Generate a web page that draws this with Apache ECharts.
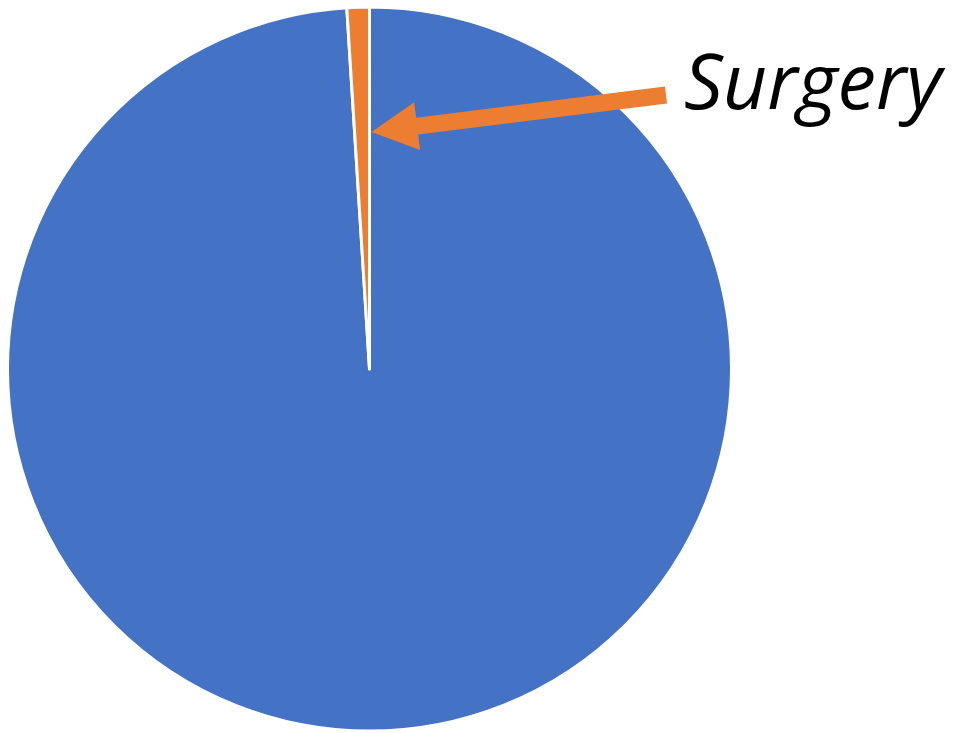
<!DOCTYPE html>
<html><head><meta charset="utf-8">
<script src="https://cdn.jsdelivr.net/npm/echarts@6/dist/echarts.min.js"></script>
<style>html,body{margin:0;padding:0;background:#fff}#c{width:961px;height:733px}</style>
</head><body><div id="c"></div>
<script>
const categories = ['Other', 'Surgery'];
const values = [99, 1];
const colors = ['#4472C4', '#ED7D31'];
const annotationText = 'Surgery';

const cx = 369.5, cy = 369, R = 362;
const tip = [cx + 2, cy - 0.655 * R];
const tail = [666, 95];
function arrowPoints(a, b, shaftW, headL, headW) {
  const dx = a[0] - b[0], dy = a[1] - b[1];
  const L = Math.hypot(dx, dy);
  const ux = dx / L, uy = dy / L, px = -uy, py = ux;
  const base = [b[0] + ux * headL, b[1] + uy * headL];
  return [
    [a[0] + px * shaftW / 2, a[1] + py * shaftW / 2],
    [base[0] + px * shaftW / 2, base[1] + py * shaftW / 2],
    [base[0] + px * headW / 2, base[1] + py * headW / 2],
    b,
    [base[0] - px * headW / 2, base[1] - py * headW / 2],
    [base[0] - px * shaftW / 2, base[1] - py * shaftW / 2],
    [a[0] - px * shaftW / 2, a[1] - py * shaftW / 2]
  ];
}
const chart = echarts.init(document.getElementById('c'), null, {renderer: 'canvas'});
chart.setOption({
  animation: false,
  backgroundColor: '#ffffff',
  series: [{
    type: 'pie',
    center: [cx, cy],
    radius: [0, R],
    startAngle: 90,
    clockwise: true,
    label: {show: false},
    labelLine: {show: false},
    itemStyle: {borderColor: '#ffffff', borderWidth: 3},
    emphasis: {disabled: true},
    data: categories.map((n, i) => ({name: n, value: values[i], itemStyle: {color: colors[i]}}))
  }],
  graphic: [
    {type: 'polygon', shape: {points: arrowPoints(tail, tip, 17, 46, 48)}, style: {fill: colors[1]}, z: 100},
    {type: 'text', left: 684, top: 49, style: {text: annotationText, font: 'italic 77px "Open Sans"', fill: '#000'}, z: 100}
  ]
});
</script></body></html>
